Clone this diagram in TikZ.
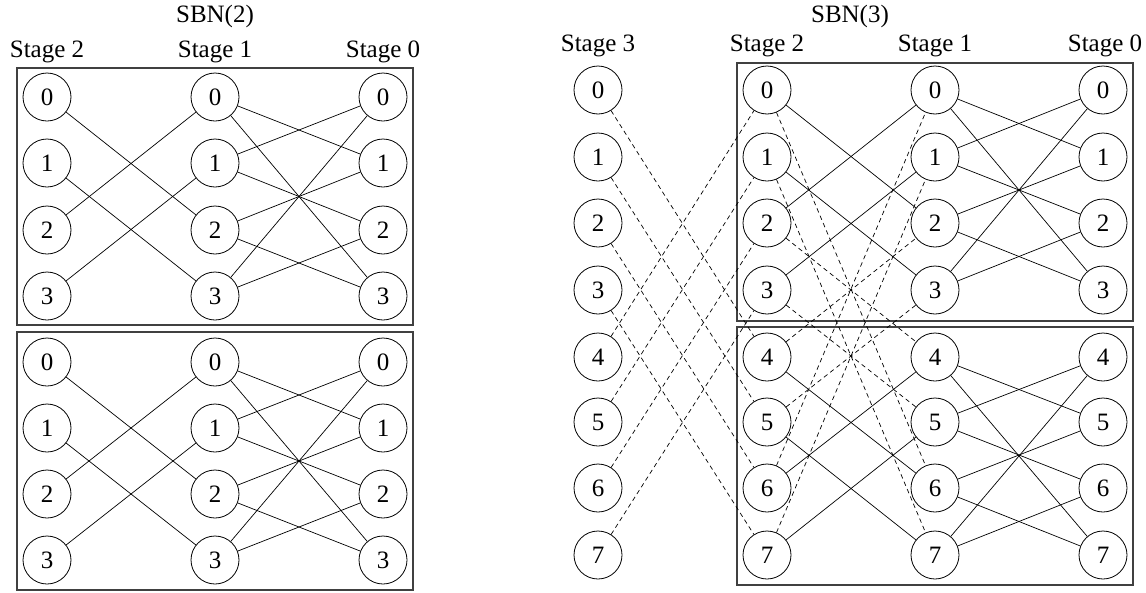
\documentclass[tikz,border=0pt]{standalone}
\usepackage{fontspec}
\setmainfont{Liberation Serif}
\begin{document}
\begin{tikzpicture}[x=1pt,y=-1pt,
  nd/.style={draw,circle,minimum size=48pt,inner sep=0pt,line width=0.8pt,font=\fontsize{25}{29}\selectfont},
  lbl/.style={anchor=base,inner sep=0pt,font=\fontsize{25}{29}\selectfont},
  frame/.style={draw=black!75,line width=1.3pt},
  wire/.style={line width=0.7pt},
  dwire/.style={line width=0.7pt,dash pattern=on 4.5pt off 3.5pt}]
\useasboundingbox (0,0) rectangle (1146,592);
% ---------- SBN(2) ----------
\node[lbl] (t2) at (215,22) {SBN(2)};
\node[lbl] (s22) at (47,57) {Stage 2};
\node[lbl] (s21) at (215,57) {Stage 1};
\node[lbl] (s20) at (383,57) {Stage 0};
\draw[frame] (17,68) rectangle (413,325);
\draw[frame] (17,332) rectangle (413,590);
\foreach \i/\y in {0/97,1/163,2/230,3/296}{
  \node[nd] (a2-\i) at (47,\y) {\i};
  \node[nd] (a1-\i) at (215,\y) {\i};
  \node[nd] (a0-\i) at (383,\y) {\i};
}
\foreach \i/\y in {0/362,1/428,2/494,3/560}{
  \node[nd] (b2-\i) at (47,\y) {\i};
  \node[nd] (b1-\i) at (215,\y) {\i};
  \node[nd] (b0-\i) at (383,\y) {\i};
}
\foreach \p in {a,b}{
  \foreach \i/\j in {0/2,1/3,2/0,3/1}{\draw[wire] (\p2-\i) -- (\p1-\j);}
  \foreach \i/\j in {0/1,1/0,2/3,3/2,0/3,1/2,2/1,3/0}{\draw[wire] (\p1-\i) -- (\p0-\j);}
}
% ---------- SBN(3) ----------
\node[lbl] (t3) at (850,22) {SBN(3)};
\node[lbl] (s33) at (598,51) {Stage 3};
\node[lbl] (s32) at (767,51) {Stage 2};
\node[lbl] (s31) at (935,51) {Stage 1};
\node[lbl] (s30) at (1105,51) {Stage 0};
\draw[frame] (737,63) rectangle (1133,321);
\draw[frame] (737,327) rectangle (1133,585);
\foreach \i/\y in {0/90,1/157,2/223,3/290,4/357,5/422,6/488,7/555}{
  \node[nd] (c3-\i) at (598,\y) {\i};
  \node[nd] (c2-\i) at (767,\y) {\i};
  \node[nd] (c1-\i) at (935,\y) {\i};
  \node[nd] (c0-\i) at (1103,\y) {\i};
}
\foreach \i/\j in {0/2,1/3,2/0,3/1,4/6,5/7,6/4,7/5}{\draw[wire] (c2-\i) -- (c1-\j);}
\foreach \i/\j in {0/1,1/0,2/3,3/2,0/3,1/2,2/1,3/0,4/5,5/4,6/7,7/6,4/7,5/6,6/5,7/4}{\draw[wire] (c1-\i) -- (c0-\j);}
\foreach \i/\j in {0/4,1/5,2/6,3/7,4/0,5/1,6/2,7/3}{\draw[dwire] (c3-\i) -- (c2-\j);}
\foreach \i/\j in {0/6,1/7,2/4,3/5,4/2,5/3,6/0,7/1}{\draw[dwire] (c2-\i) -- (c1-\j);}
\end{tikzpicture}
\end{document}
